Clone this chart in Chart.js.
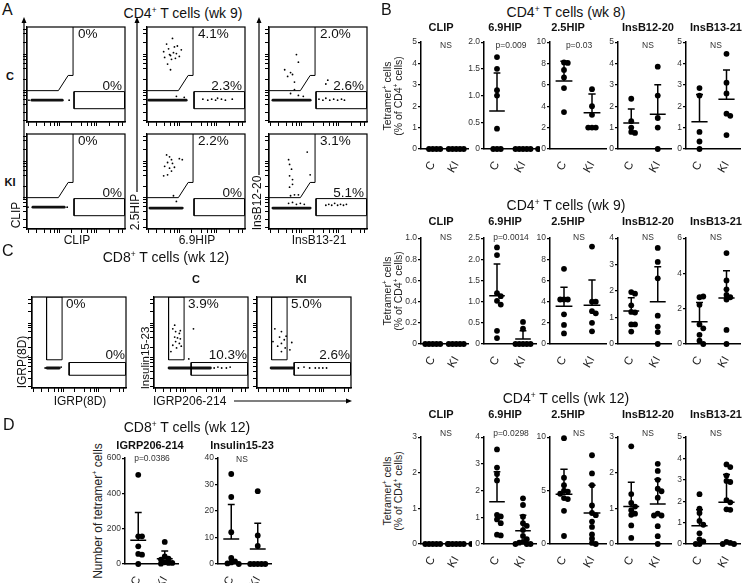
<!DOCTYPE html>
<html>
<head>
<meta charset="utf-8">
<title>Tetramer staining</title>
<script src="https://cdn.jsdelivr.net/npm/chart.js@4.4.1/dist/chart.umd.min.js"></script>
<style>
  body { margin: 0; background: #fff; }
  #fig { position: relative; width: 743px; height: 583px; overflow: hidden; font-family: 'Liberation Sans', Arial, sans-serif; color: #111; }
  #fig canvas, #fig svg { position: absolute; }
  .t { position: absolute; white-space: nowrap; line-height: 1.05; text-align: center; }
  sup { font-size: 0.6em; line-height: 0; vertical-align: 0.6em; }
</style>
</head>
<body>
<div id="fig"></div>
<script>
// ---- data ----
const peptides = ['CLIP', '6.9HIP', '2.5HIP', 'InsB12-20', 'InsB13-21'];
const groups = ['C', 'KI'];

// CD4 wk 8
const wk8Max = [5, 2, 10, 5, 5];
const wk8Step = [1, 0.5, 2, 1, 1];
const wk8Stats = ['NS', 'p=0.009', 'p=0.03', 'NS', 'NS'];
const wk8C = [
  [0, 0, 0, 0],
  [1.72, 1.5, 1.1, 1.0, 0.38, 0, 0, 0],
  [8.1, 8.05, 7.4, 6.7, 5.7, 3.45],
  [2.35, 1.3, 1.0, 0.8, 0.75],
  [2.85, 2.5, 0.8, 0.35, 0]
];
const wk8KI = [
  [0, 0, 0, 0, 0],
  [0, 0, 0, 0, 0, 0],
  [5.6, 4.0, 3.2, 2.0, 2.0, 2.0],
  [3.85, 2.5, 1.45, 1.0, 0],
  [4.45, 3.1, 2.6, 1.65, 1.55, 0.65]
];
const wk8Mean = [[0, 0], [0.71, 0], [6.35, 3.4], [1.22, 1.63], [1.27, 2.33]];
const wk8Upper = [[0, 0], [1.42, 0], [8.2, 5.15], [1.87, 3.0], [2.55, 3.7]];

// CD4 wk 9
const wk9Max = [1, 2.5, 10, 4, 6];
const wk9Step = [0.2, 0.5, 2, 1, 2];
const wk9Stats = ['NS', 'p=0.0014', 'NS', 'NS', 'NS'];
const wk9C = [
  [0, 0, 0, 0, 0],
  [2.28, 2.1, 1.2, 1.13, 1.02, 0.93, 0.31, 0.14],
  [7.1, 4.2, 4.2, 4.2, 2.8, 1.8, 1.0],
  [1.96, 1.9, 1.46, 1.21, 1.19, 0.74, 0.74, 0.47],
  [2.65, 2.69, 2.22, 1.11, 0.89, 0.52, 0.19, 0]
];
const wk9KI = [
  [0, 0, 0, 0, 0],
  [0.52, 0.36, 0, 0, 0, 0, 0],
  [9.2, 4.0, 4.0, 3.1, 2.9, 2.0, 1.2],
  [3.63, 3.1, 2.48, 1.07, 0.66, 0.45, 0],
  [5.15, 3.6, 3.1, 2.78, 2.65, 2.52, 0.8, 0]
];
const wk9Mean = [[0, 0], [1.14, 0.12], [3.56, 3.65], [1.25, 1.6], [1.26, 2.6]];
const wk9Upper = [[0, 0], [1.89, 0.31], [5.35, 6.05], [1.75, 2.92], [2.35, 4.15]];

// CD4 wk 12
const wk12Max = [3, 4, 10, 3, 5];
const wk12Step = [1, 1, 5, 1, 1];
const wk12Stats = ['NS', 'p=0.0298', 'NS', 'NS', 'NS'];
const wk12C = [
  [0, 0, 0, 0, 0, 0],
  [3.54, 2.86, 2.62, 2.38, 1.09, 1.03, 0.92, 0.78, 0.35, 0.32],
  [9.9, 6.2, 5.5, 5.0, 4.9, 4.7, 4.3, 4.2, 3.1, 0.75],
  [2.74, 1.4, 1.15, 1.05, 0.95, 0.85, 0.82, 0.52, 0.17],
  [2.33, 1.65, 1.45, 1.08, 0.9, 0.5, 0.22, 0.12, 0, 0]
];
const wk12KI = [
  [0, 0, 0, 0, 0, 0],
  [1.71, 1.46, 1.02, 0.78, 0.68, 0.52, 0.3, 0.18, 0.08, 0.05, 0, 0, 0],
  [8.3, 6.6, 5.5, 3.6, 2.9, 2.7, 2.1, 1.6, 0.9, 0.5, 0.1, 0],
  [2.25, 2.05, 1.8, 1.55, 1.48, 1.3, 0.85, 0.8, 0.8, 0.5, 0.22, 0],
  [3.72, 3.6, 3.2, 2.95, 2.9, 2.05, 1.95, 1.62, 1.6, 0.1, 0.05, 0, 0]
];
const wk12Mean = [[0, 0], [1.58, 0.5], [4.65, 2.9], [1.05, 1.12], [0.85, 1.95]];
const wk12Upper = [[0, 0], [2.7, 1.08], [7.0, 5.5], [1.73, 1.82], [1.6, 3.25]];

// CD8 wk 12 counts
const igrpC = [505, 157, 157, 100, 57, 53, 0];
const igrpKI = [125, 43, 30, 25, 10, 6, 6, 2];
const igrpMean = [134, 30];
const igrpUpper = [292, 74];
const insC = [34, 25.3, 12, 2.3, 1.0, 0.6, 0.2, 0];
const insKI = [27.5, 10.8, 6.8, 0, 0, 0, 0, 0];
const insMean = [9.4, 5.7];
const insUpper = [22.5, 15.4];

// flow plots (A): percentages and events
const flowTicks = [2, 10, 18, 24, 28, 31, 33, 45, 56, 62, 66, 69, 71, 84, 93, 97];
const pctTopA = [['0%', '4.1%', '2.0%'], ['0%', '2.2%', '3.1%']];
const pctLowA = [['0%', '2.3%', '2.6%'], ['0%', '0%', '5.1%']];
const yLabelsA = ['CLIP', '2.5HIP', 'InsB12-20'];
const xLabelsA = ['CLIP', '6.9HIP', 'InsB13-21'];
const gateTopA = [[0, 33], [32, 33], [42, 49], [47, 49], [47, 100]];
const gateBoxA = [[48, 14], [99.5, 14], [99.5, 32], [48, 32], [48, 14]];
const bandsA = [
  [[[5, 23], [36, 23]]], [[[2, 23], [40, 23]]], [[[4, 23], [42, 23]]],
  [[[6, 23], [38, 23]]], [[[3, 22], [36, 22]]], [[[4, 22], [42, 22]]]
];
const dotsA = [
  [[43, 23], [2, 23]],
  [[26, 88], [20, 82], [22, 77], [17, 74], [23, 71], [27, 73], [30, 72], [33, 69], [25, 66], [21, 61], [24, 55], [28, 79], [31, 80], [18, 68], [35, 76], [24, 70], [29, 67], [30, 27], [38, 26], [57, 24], [62, 23], [66, 24], [70, 23], [72, 25], [76, 24], [80, 23], [87, 24]],
  [[28, 71], [30, 63], [16, 55], [22, 52], [24, 50], [19, 48], [26, 42], [26, 34], [22, 30], [30, 28], [35, 27], [58, 40], [60, 44], [51, 24], [55, 23], [58, 25], [62, 23], [66, 24], [70, 23], [74, 24], [77, 23]],
  [[1, 23], [41, 23]],
  [[20, 78], [23, 76], [25, 73], [21, 70], [26, 69], [18, 66], [23, 64], [28, 65], [33, 74], [36, 73], [25, 61], [17, 56], [21, 57], [27, 35], [30, 29]],
  [[39, 81], [20, 73], [23, 63], [21, 56], [24, 47], [21, 44], [42, 57], [26, 36], [30, 36], [22, 35], [24, 52], [21, 68], [20, 27], [24, 28], [28, 26], [32, 27], [36, 26], [58, 25], [61, 26], [64, 25], [67, 27], [70, 25], [73, 26], [76, 25], [79, 26]]
];

// flow plots (C)
const pctTopC = ['0%', '3.9%', '5.0%'];
const pctLowC = ['0%', '10.3%', '2.6%'];
const gateTallC = [[15.5, 31], [32, 31], [32, 100], [15.5, 100], [15.5, 31]];
const gateBoxC = [[39.5, 14], [99.5, 14], [99.5, 28], [39.5, 28], [39.5, 14]];
const bandsC = [[[[16, 22], [29, 22]]], [[[16, 22], [60, 22]]], [[[15, 22], [38, 22]]]];
const dotsC = [
  [[14, 22], [31, 23]],
  [[20, 65], [23, 62], [27, 60], [22, 56], [25, 55], [28, 54], [23, 51], [27, 49], [20, 47], [29, 46], [24, 44], [18, 40], [28, 63], [22, 69], [42, 65], [37, 32], [64, 22], [68, 23], [72, 22], [77, 22], [81, 23]],
  [[19, 65], [26, 62], [24, 56], [29, 53], [26, 49], [22, 46], [30, 44], [26, 40], [17, 51], [31, 57], [37, 50], [35, 42], [44, 22], [50, 23], [56, 22], [62, 22], [66, 22], [70, 22], [74, 22]]
];

// ---- helpers ----
Chart.defaults.font.family = "'Liberation Sans', Arial, sans-serif";
const fig = document.getElementById('fig');

function txt(html, x, y, o = {}) {
  const d = document.createElement('div');
  d.className = 't';
  d.innerHTML = html;
  d.style.left = x + 'px';
  d.style.top = y + 'px';
  d.style.fontSize = (o.size || 11) + 'px';
  if (o.bold) d.style.fontWeight = 'bold';
  if (o.color) d.style.color = o.color;
  const ax = o.align === 'left' ? '0%' : o.align === 'right' ? '-100%' : '-50%';
  d.style.transform = `translate(${ax},-50%)` + (o.rot ? ` rotate(${o.rot}deg)` : '');
  fig.appendChild(d);
}

function addCanvas(left, top, w, h) {
  const cv = document.createElement('canvas');
  cv.width = w; cv.height = h;
  cv.style.left = left + 'px'; cv.style.top = top + 'px';
  cv.style.width = w + 'px'; cv.style.height = h + 'px';
  fig.appendChild(cv);
  return cv;
}

const R = 2.9;
function swarm(vals, cx, max, plotW, plotH) {
  const placed = [];
  return vals.map(v => {
    const py = v / max * plotH;
    let off = 0;
    for (let n = 0; n < 30; n++) {
      off = Math.ceil(n / 2) * (n % 2 ? 1 : -1) * R * 1.35;
      if (placed.every(p => Math.hypot(p.x - off, p.y - py) >= R * 1.35)) break;
    }
    placed.push({ x: off, y: py });
    return { x: cx + off / plotW * 2, y: v };
  });
}

const meanSd = {
  id: 'meanSd',
  afterDatasetsDraw(chart, args, opts) {
    const { ctx, scales: { x, y } } = chart;
    ctx.save();
    ctx.strokeStyle = '#000';
    ctx.lineWidth = 1.5;
    opts.mean.forEach((m, i) => {
      const cx = x.getPixelForValue(i + 1);
      const hw = x.getPixelForValue(1.3) - x.getPixelForValue(1);
      const cw = x.getPixelForValue(1.13) - x.getPixelForValue(1);
      const my = y.getPixelForValue(m), uy = y.getPixelForValue(opts.upper[i]);
      ctx.beginPath();
      ctx.moveTo(cx - hw, my); ctx.lineTo(cx + hw, my);
      if (uy < my - 0.5) {
        ctx.moveTo(cx, my); ctx.lineTo(cx, uy);
        ctx.moveTo(cx - cw, uy); ctx.lineTo(cx + cw, uy);
      }
      ctx.stroke();
    });
    ctx.restore();
  }
};

function dotPlot(o) {
  const YW = 24, XH = 28, PT = 6;
  const left = o.x - YW, top = o.top - PT;
  const cv = addCanvas(left, top, o.end - left + 2, o.zero - top + XH);
  const plotW = o.end - o.x, plotH = o.zero - o.top;
  const pts = swarm(o.c, 1, o.max, plotW, plotH).concat(swarm(o.ki, 2, o.max, plotW, plotH));
  new Chart(cv, {
    type: 'scatter',
    data: { datasets: [{ data: pts, pointRadius: R, backgroundColor: '#000', borderWidth: 0, clip: false }] },
    options: {
      responsive: false, animation: false, devicePixelRatio: 1, events: [],
      layout: { padding: { top: PT, right: 2, left: 0, bottom: 0 } },
      plugins: { legend: { display: false }, tooltip: { enabled: false }, meanSd: { mean: o.mean, upper: o.upper } },
      scales: {
        x: {
          type: 'linear', min: 0.5, max: 2.5,
          afterBuildTicks: s => { s.ticks = groups.map((g, i) => ({ value: i + 1 })); },
          afterFit: s => { s.height = XH; },
          ticks: { callback: v => groups[v - 1], minRotation: 60, maxRotation: 60, font: { size: 11.5 }, color: '#222', padding: 2 },
          grid: { display: false },
          border: { color: '#000', width: 1.5 }
        },
        y: {
          min: 0, max: o.max,
          afterFit: s => { s.width = YW; },
          ticks: { stepSize: o.step, font: { size: 8.5 }, color: '#333', padding: 1,
            callback: v => v === 0 ? '0' : v.toFixed(o.step < 1 ? 1 : 0) },
          grid: { drawOnChartArea: false, tickLength: 3, color: '#000', lineWidth: 1.2 },
          border: { color: '#000', width: 1.5 }
        }
      }
    },
    plugins: [meanSd]
  });
}

const frame = {
  id: 'frame',
  afterDraw(chart) {
    const a = chart.chartArea, c = chart.ctx;
    c.save(); c.strokeStyle = '#000'; c.lineWidth = 1.2;
    c.strokeRect(a.left, a.top, a.right - a.left, a.bottom - a.top);
    c.restore();
  }
};

function flowPlot(left, top, w, h, dots, bands, gates) {
  const T = 4;
  const cv = addCanvas(left - T, top - 1, w + T + 2, h + T + 1);
  const xy = p => p.map(([x, y]) => ({ x, y }));
  const ds = [];
  gates.forEach(g => ds.push({ data: xy(g), showLine: true, borderColor: '#000', borderWidth: 1, pointRadius: 0 }));
  bands.forEach(b => ds.push({ data: xy(b), showLine: true, borderColor: '#111', borderWidth: 2.8, pointRadius: 0, borderCapStyle: 'round' }));
  ds.push({ data: xy(dots), pointRadius: 0.9, backgroundColor: '#000', borderWidth: 0 });
  const axis = (fitKey) => ({
    min: 0, max: 100,
    afterBuildTicks: s => { s.ticks = flowTicks.map(v => ({ value: v })); },
    afterFit: s => { s[fitKey] = T; },
    ticks: { display: false },
    grid: { drawOnChartArea: false, tickLength: T, color: '#000', lineWidth: 1 },
    border: { color: '#000', width: 1.2 }
  });
  new Chart(cv, {
    type: 'scatter',
    data: { datasets: ds },
    options: {
      responsive: false, animation: false, devicePixelRatio: 1, events: [],
      layout: { padding: { top: 1, right: 2, left: 0, bottom: 0 } },
      plugins: { legend: { display: false }, tooltip: { enabled: false } },
      scales: { x: axis('height'), y: axis('width') }
    },
    plugins: [frame]
  });
}

// ---- panel A ----
const boxLeftA = [27, 147, 269], boxTopA = [24, 131];
txt('A', 2, 10, { size: 16, align: 'left' });
txt('CD4<sup>+</sup> T cells (wk 9)', 183, 13, { size: 14 });
txt(groups[0], 10, 77, { size: 11, bold: true });
txt(groups[1], 10, 183, { size: 11, bold: true });
boxTopA.forEach((top, r) => {
  boxLeftA.forEach((left, c) => {
    const k = r * 3 + c;
    flowPlot(left, top, 100, 98, dotsA[k], bandsA[k], [gateTopA, gateBoxA]);
    txt(pctTopA[r][c], left + 51, top + 10, { size: 13.5, align: 'left' });
    txt(pctLowA[r][c], left + 95, top + 62, { size: 13.5, align: 'right' });
  });
});
txt(yLabelsA[0], 16, 215, { size: 12, rot: -90 });
txt(yLabelsA[1], 135, 212, { size: 12, rot: -90 });
txt(yLabelsA[2], 257, 203, { size: 12, rot: -90 });
xLabelsA.forEach((s, c) => txt(s, boxLeftA[c] + 50, 240, { size: 12 }));

// ---- panel C ----
const boxLeftC = [32, 154, 257];
txt('C', 2, 251, { size: 16, align: 'left' });
txt('CD8<sup>+</sup> T cells (wk 12)', 166, 257, { size: 14 });
txt(groups[0], 196, 280, { size: 11, bold: true });
txt(groups[1], 301, 280, { size: 11, bold: true });
boxLeftC.forEach((left, c) => {
  flowPlot(left, 294, 96, 94, dotsC[c], bandsC[c], [gateTallC, gateBoxC]);
  txt(pctTopC[c], left + 34, 304, { size: 13.5, align: 'left' });
  txt(pctLowC[c], left + 93, 355, { size: 13.5, align: 'right' });
});
txt('IGRP(8D)', 22, 362, { size: 12, rot: -90 });
txt('Insulin15-23', 145, 358, { size: 11.5, rot: -90 });
txt('IGRP(8D)', 80, 401, { size: 12 });
txt('IGRP206-214', 153, 401, { size: 12, align: 'left' });

// ---- panel B ----
const colX = [421, 484, 550, 618, 686];
const colEnd = [470, 538, 608, 673, 742];
const subX = [441, 505, 568, 648, 716];
const statX = [446, 511, 579, 648, 716];
const rowsB = [
  { wk: 8, title: 12, sub: 28, stat: 45, top: 42, zero: 149, max: wk8Max, step: wk8Step, stats: wk8Stats, c: wk8C, ki: wk8KI, mean: wk8Mean, upper: wk8Upper },
  { wk: 9, title: 205, sub: 222, stat: 237, top: 238, zero: 344, max: wk9Max, step: wk9Step, stats: wk9Stats, c: wk9C, ki: wk9KI, mean: wk9Mean, upper: wk9Upper },
  { wk: 12, title: 398, sub: 415, stat: 433, top: 437, zero: 544, max: wk12Max, step: wk12Step, stats: wk12Stats, c: wk12C, ki: wk12KI, mean: wk12Mean, upper: wk12Upper }
];
txt('B', 381, 10, { size: 16, align: 'left' });
rowsB.forEach(row => {
  txt(`CD4<sup>+</sup> T cells (wk ${row.wk})`, 566, row.title, { size: 14 });
  txt('Tetramer<sup>+</sup> cells<br>(% of CD4<sup>+</sup> cells)', 393, (row.top + row.zero) / 2, { size: 10.5, rot: -90, color: '#222' });
  peptides.forEach((p, i) => {
    dotPlot({ x: colX[i], end: colEnd[i], top: row.top, zero: row.zero, max: row.max[i], step: row.step[i],
      c: row.c[i], ki: row.ki[i], mean: row.mean[i], upper: row.upper[i] });
    txt(p, subX[i], row.sub, { size: 11, bold: true });
    txt(row.stats[i], statX[i], row.stat, { size: 8.5, color: '#333' });
  });
});

// ---- panel D ----
txt('D', 3, 425, { size: 16, align: 'left' });
txt('CD8<sup>+</sup> T cells (wk 12)', 187, 427, { size: 14 });
txt('IGRP206-214', 150, 446, { size: 11, bold: true });
txt('Insulin15-23', 242, 446, { size: 11, bold: true });
txt('p=0.0386', 152, 458, { size: 8.5, color: '#333' });
txt('NS', 242, 459, { size: 8.5, color: '#333' });
txt('Number of tetramer<sup>+</sup> cells', 98, 511, { size: 12, rot: -90, color: '#222' });
dotPlot({ x: 125, end: 180, top: 458, zero: 564, max: 600, step: 200, c: igrpC, ki: igrpKI, mean: igrpMean, upper: igrpUpper });
dotPlot({ x: 218, end: 273, top: 458, zero: 564, max: 40, step: 10, c: insC, ki: insKI, mean: insMean, upper: insUpper });

// ---- arrows ----
const NS = 'http://www.w3.org/2000/svg';
const svg = document.createElementNS(NS, 'svg');
svg.setAttribute('width', 743); svg.setAttribute('height', 583);
svg.style.left = '0px'; svg.style.top = '0px';
fig.appendChild(svg);
function arrow(x1, y1, x2, y2) {
  const l = document.createElementNS(NS, 'line');
  const a = Math.atan2(y2 - y1, x2 - x1), L = 6, W = 2.5;
  const bx = x2 - L * Math.cos(a), by = y2 - L * Math.sin(a);
  l.setAttribute('x1', x1); l.setAttribute('y1', y1); l.setAttribute('x2', bx); l.setAttribute('y2', by);
  l.setAttribute('stroke', '#000'); l.setAttribute('stroke-width', 1.2);
  svg.appendChild(l);
  const h = document.createElementNS(NS, 'polygon');
  const px = -Math.sin(a) * W, py = Math.cos(a) * W;
  h.setAttribute('points', `${x2},${y2} ${bx + px},${by + py} ${bx - px},${by - py}`);
  h.setAttribute('fill', '#000');
  svg.appendChild(h);
}
arrow(24, 200, 24, 17);
arrow(137, 192, 137, 17);
arrow(259, 175, 259, 17);
arrow(234, 401, 352, 401);
</script>
</body>
</html>
